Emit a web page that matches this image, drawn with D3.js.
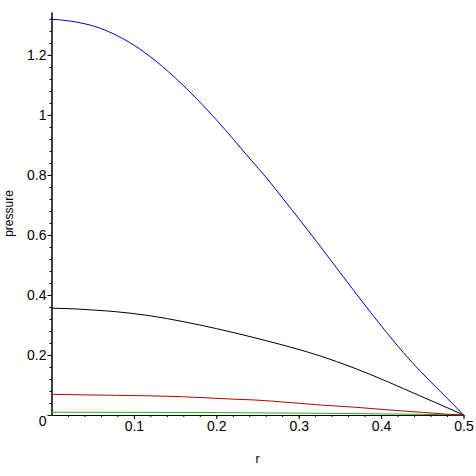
<!DOCTYPE html>
<html>
<head>
<meta charset="utf-8">
<script src="https://cdn.jsdelivr.net/npm/d3@7"></script>
<style>
  body { margin: 0; background: #fff; }
  text { font-family: "Liberation Sans", Arial, sans-serif; }
</style>
</head>
<body>
<svg id="chart" width="476" height="476"></svg>
<script>
// values
var blueR  = [0, 0.022, 0.059, 0.095, 0.119, 0.15, 0.174, 0.2, 0.221, 0.241, 0.261, 0.281, 0.302, 0.322, 0.346, 0.367, 0.387, 0.407, 0.427, 0.448, 0.468, 0.488, 0.5];
var blueP  = [1.319, 1.313, 1.289, 1.241, 1.196, 1.124, 1.06, 0.984, 0.918, 0.853, 0.79, 0.721, 0.648, 0.577, 0.49, 0.414, 0.343, 0.274, 0.208, 0.145, 0.089, 0.034, 0];
var blackR = [0, 0.026, 0.05, 0.079, 0.119, 0.16, 0.2, 0.253, 0.281, 0.326, 0.346, 0.366, 0.387, 0.407, 0.427, 0.447, 0.468, 0.488, 0.5];
var blackP = [0.356, 0.354, 0.35, 0.344, 0.331, 0.311, 0.288, 0.253, 0.233, 0.197, 0.178, 0.158, 0.135, 0.112, 0.088, 0.064, 0.039, 0.015, 0];
var redR   = [0, 0.04, 0.115, 0.158, 0.19, 0.219, 0.247, 0.287, 0.328, 0.368, 0.409, 0.449, 0.478, 0.5];
var redP   = [0.069, 0.067, 0.064, 0.061, 0.057, 0.053, 0.05, 0.042, 0.033, 0.026, 0.017, 0.009, 0.003, 0];
var greenR = [0, 0.1, 0.2, 0.3, 0.4, 0.45, 0.5];
var greenP = [0.0092, 0.009, 0.008, 0.0062, 0.0038, 0.0022, 0];

var xTicks = [0.1, 0.2, 0.3, 0.4, 0.5];
var yTicks = [0, 0.2, 0.4, 0.6, 0.8, 1, 1.2];
var xMinor = d3.range(0.02, 0.5001, 0.02);
var yMinor = d3.range(0.04, 1.34, 0.04);

var svg = d3.select("#chart");

var margin = {top: 12, right: 12.5, bottom: 61, left: 51.5},
  width = 476 - margin.left - margin.right,
  height = 476 - margin.top - margin.bottom;

var g = svg.append("g")
  .attr("transform", "translate(" + margin.left + "," + margin.top + ")");

var x = d3.scaleLinear().domain([0, 0.5]).range([0, width]);
var y = d3.scaleLinear().domain([0, 1.343]).range([height, 0]);

// minor ticks first, majors (with labels) on top
g.append("g")
  .attr("transform", "translate(0," + height + ")")
  .call(d3.axisBottom(x).tickValues(xMinor).tickSize(2).tickSizeOuter(0).tickFormat(""));

g.append("g")
  .call(d3.axisLeft(y).tickValues(yMinor).tickSize(2).tickSizeOuter(0).tickFormat(""));

var gX = g.append("g")
  .attr("transform", "translate(0," + height + ")")
  .call(d3.axisBottom(x).tickValues(xTicks).tickSize(4).tickSizeOuter(0).tickPadding(2)
    .tickFormat(function(d) { return d3.format("")(+d.toFixed(1)); }));

var gY = g.append("g")
  .call(d3.axisLeft(y).tickValues(yTicks).tickSize(4).tickSizeOuter(0).tickPadding(1)
    .tickFormat(function(d) { return d3.format("")(+d.toFixed(1)); }));

g.selectAll(".tick text").attr("font-size", 14).attr("font-family", null).attr("fill", "#000");
g.selectAll(".domain, .tick line").attr("stroke", "#000");

// the 0 sits below the origin
gY.selectAll(".tick").filter(function(d) { return d === 0; })
  .select("text").attr("dy", "0.76em");

var series = [
  {r: greenR, p: greenP, color: "#20b020"},
  {r: redR, p: redP, color: "#c00000"},
  {r: blackR, p: blackP, color: "#000000"},
  {r: blueR, p: blueP, color: "#0000c8"}
];

var line = d3.line()
  .curve(d3.curveMonotoneX)
  .x(function(d) { return x(d[0]); })
  .y(function(d) { return y(d[1]); });

series.forEach(function(s) {
  g.append("path")
    .datum(s.r.map(function(v, i) { return [v, s.p[i]]; }))
    .attr("fill", "none")
    .attr("stroke", s.color)
    .attr("stroke-width", 1)
    .attr("d", line);
});

// axis titles
svg.append("text")
  .attr("x", margin.left + width / 2)
  .attr("y", 463)
  .attr("font-size", 12)
  .attr("text-anchor", "middle")
  .text("r");

svg.append("text")
  .attr("transform", "translate(12.5," + (margin.top + height / 2) + ") rotate(-90)")
  .attr("font-size", 12)
  .attr("text-anchor", "middle")
  .text("pressure");
</script>
</body>
</html>
